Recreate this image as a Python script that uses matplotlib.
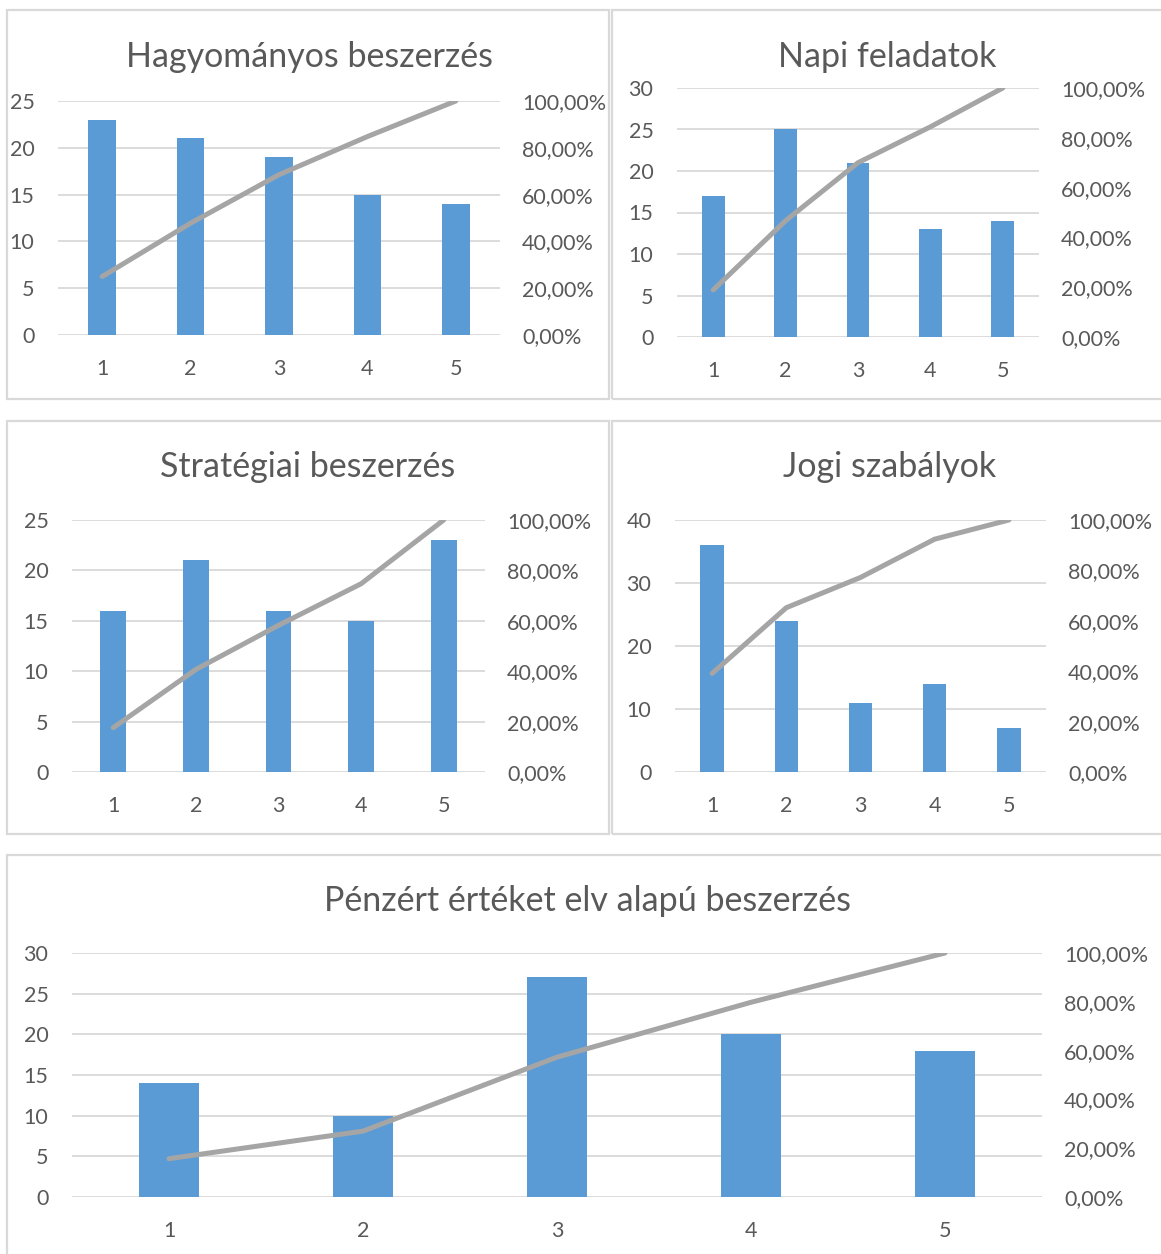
import matplotlib.pyplot as plt
from matplotlib.patches import Rectangle
from matplotlib.ticker import FuncFormatter

# Category labels shared by every panel
categories = ['1', '2', '3', '4', '5']

# Bar values (counts)
hagyomanyos = [23, 21, 19, 15, 14]
napi = [17, 25, 21, 13, 14]
strategiai = [16, 21, 16, 15, 23]
jogi = [36, 24, 11, 14, 7]
penzert = [14, 10, 27, 20, 18]

# Cumulative line values (percent)
hagyomanyos_cum = [25.0, 47.8, 68.5, 84.8, 100.0]
napi_cum = [18.9, 46.7, 70.0, 84.4, 100.0]
strategiai_cum = [17.6, 40.7, 58.2, 74.7, 100.0]
jogi_cum = [39.1, 65.2, 77.2, 92.4, 100.0]
penzert_cum = [15.7, 27.0, 57.3, 79.8, 100.0]

titles = ['Hagyományos beszerzés', 'Napi feladatok', 'Stratégiai beszerzés',
          'Jogi szabályok', 'Pénzért értéket elv alapú beszerzés']

BAR = '#5b9bd5'
LINE = '#a5a5a5'
GRID = '#d9d9d9'
TXT = '#595959'

W, H = 1161, 1254
plt.rcParams['font.family'] = ['Lato', 'DejaVu Sans']
fig = plt.figure(figsize=(W / 100, H / 100), dpi=100)


def px_rect(left, top, right, bottom):
    return [left / W, 1 - bottom / H, (right - left) / W, (bottom - top) / H]


def panel_box(left, top, right, bottom):
    fig.add_artist(Rectangle((left / W, 1 - bottom / H), (right - left) / W,
                             (bottom - top) / H, transform=fig.transFigure,
                             fill=False, edgecolor=GRID, lw=1.6))


def pareto(box, values, cum, title, ymax, ystep, title_xy):
    ax = fig.add_axes(px_rect(*box))
    x = list(range(len(categories)))
    ax.bar(x, values, width=0.313, color=BAR, zorder=3)
    ax.set_xlim(-0.5, len(categories) - 0.5)
    ax.set_ylim(0, ymax)
    ax.set_yticks(range(0, ymax + 1, ystep))
    ax.set_xticks(x)
    ax.set_xticklabels(categories)
    ax.grid(axis='y', color=GRID, lw=1.3, zorder=0)
    ax.set_axisbelow(True)
    for s in ax.spines.values():
        s.set_visible(False)
    ax.tick_params(axis='y', length=0, pad=17, labelsize=15.5, labelcolor=TXT)
    ax.tick_params(axis='x', length=0, pad=17, labelsize=15.5, labelcolor=TXT)

    ax2 = ax.twinx()
    ax2.plot(x, [c / 100 for c in cum], color=LINE, lw=3.6,
             solid_capstyle='round', solid_joinstyle='round', zorder=4)
    ax2.set_ylim(0, 1)
    ax2.set_yticks([0, 0.2, 0.4, 0.6, 0.8, 1.0])
    ax2.yaxis.set_major_formatter(
        FuncFormatter(lambda v, p: f'{v * 100:.2f}%'.replace('.', ',')))
    for s in ax2.spines.values():
        s.set_visible(False)
    ax2.tick_params(axis='y', length=0, pad=16, labelsize=15.5, labelcolor=TXT)

    fig.text(title_xy[0] / W, 1 - title_xy[1] / H, title, ha='center',
             va='baseline', fontsize=24.5, color=TXT)


# panel frames
panel_box(7, 10, 609, 399)
panel_box(612, 10, 1170, 399)
panel_box(7, 421, 609, 834)
panel_box(612, 421, 1170, 834)
panel_box(7, 855, 1170, 1265)

pareto((58, 101, 500, 335), hagyomanyos, hagyomanyos_cum, titles[0], 25, 5, (309, 67))
pareto((677, 88, 1039, 337), napi, napi_cum, titles[1], 30, 5, (887, 67))
pareto((72, 520, 485, 772), strategiai, strategiai_cum, titles[2], 25, 5, (308, 477))
pareto((675, 520, 1046, 772), jogi, jogi_cum, titles[3], 40, 10, (890, 477))
pareto((72, 953, 1042, 1197), penzert, penzert_cum, titles[4], 30, 5, (587, 911))

fig.savefig('out.png', dpi=100, facecolor='white')
